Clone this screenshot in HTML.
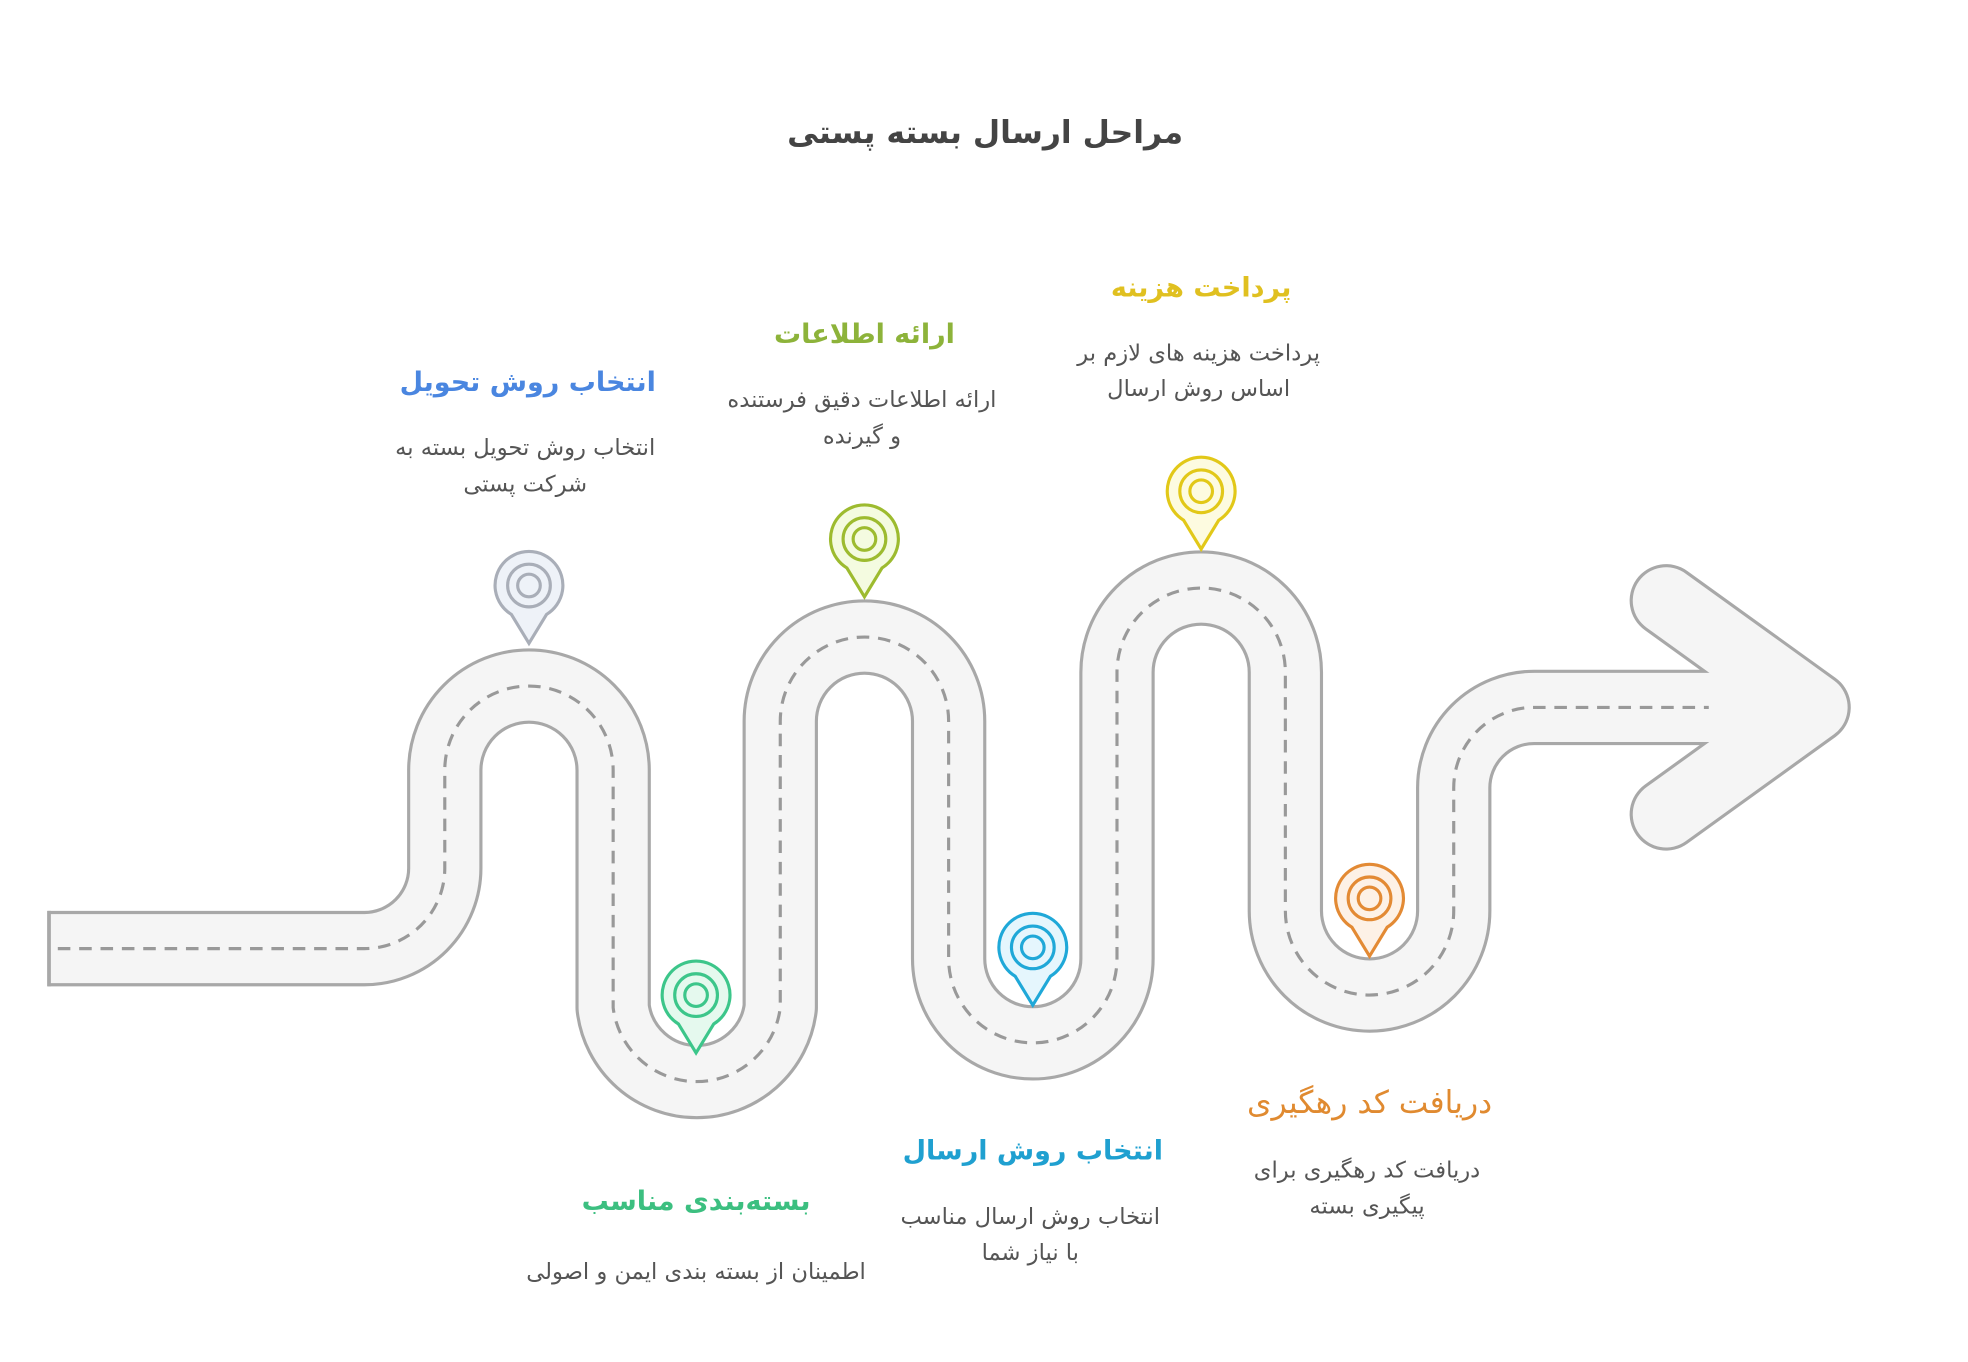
<!DOCTYPE html>
<html><head><meta charset="utf-8"><style>
html,body{margin:0;padding:0;background:#fff;}
svg{display:block;}
text{font-family:"DejaVu Sans","Liberation Sans",sans-serif;}
</style></head><body>
<svg width="1968" height="1362" viewBox="0 0 1566 1084" preserveAspectRatio="xMinYMin meet" xmlns="http://www.w3.org/2000/svg">
<rect width="1566" height="1084" fill="#fff"/>
<g fill="none" stroke-linejoin="round">
<path d="M38 755 H290 A64 64 0 0 0 354 691 V613 A67 67 0 0 1 488 613 V802 A67 67 0 0 0 621 802 V574 A67 67 0 0 1 755 574 V763 A67 67 0 0 0 889 763 V535 A67 67 0 0 1 1023 535 V725 A67 67 0 0 0 1157 725 V627 A64 64 0 0 1 1221 563 H1358" stroke="#a8a8a8" stroke-width="60"/>
<path d="M1326 478 L1444 563 L1326 648" stroke="#a8a8a8" stroke-width="58" stroke-linecap="round"/>
<path d="M38 755 H290 A64 64 0 0 0 354 691 V613 A67 67 0 0 1 488 613 V802 A67 67 0 0 0 621 802 V574 A67 67 0 0 1 755 574 V763 A67 67 0 0 0 889 763 V535 A67 67 0 0 1 1023 535 V725 A67 67 0 0 0 1157 725 V627 A64 64 0 0 1 1221 563 H1420" stroke="#f5f5f5" stroke-width="55"/>
<path d="M1326 478 L1444 563 L1326 648" stroke="#f5f5f5" stroke-width="53" stroke-linecap="round"/>
<line x1="39" y1="725" x2="39" y2="785" stroke="#a8a8a8" stroke-width="3"/>
<path d="M46 755 H290 A64 64 0 0 0 354 691 V613 A67 67 0 0 1 488 613 V802 A67 67 0 0 0 621 802 V574 A67 67 0 0 1 755 574 V763 A67 67 0 0 0 889 763 V535 A67 67 0 0 1 1023 535 V725 A67 67 0 0 0 1157 725 V627 A64 64 0 0 1 1221 563 H1360" stroke="#999" stroke-width="2.5" stroke-dasharray="10 7"/>
</g>
<g stroke-width="2.5">
<g stroke="#a9aeb8"><path d="M421 512 L407 489 A27 27 0 1 1 435 489 Z" fill="#eef2f8"/><circle cx="421" cy="466" r="17" fill="none"/><circle cx="421" cy="466" r="9" fill="none"/></g>
<g stroke="#9dbb2f"><path d="M688 475 L674 452 A27 27 0 1 1 702 452 Z" fill="#f4fbe0"/><circle cx="688" cy="429" r="17" fill="none"/><circle cx="688" cy="429" r="9" fill="none"/></g>
<g stroke="#e2c818"><path d="M956 437 L942 414 A27 27 0 1 1 970 414 Z" fill="#fdfbe0"/><circle cx="956" cy="391" r="17" fill="none"/><circle cx="956" cy="391" r="9" fill="none"/></g>
<g stroke="#3cc68a"><path d="M554 838 L540 815 A27 27 0 1 1 568 815 Z" fill="#e5f9ee"/><circle cx="554" cy="792" r="17" fill="none"/><circle cx="554" cy="792" r="9" fill="none"/></g>
<g stroke="#1fa8d8"><path d="M822 800 L808 777 A27 27 0 1 1 836 777 Z" fill="#e5f6fd"/><circle cx="822" cy="754" r="17" fill="none"/><circle cx="822" cy="754" r="9" fill="none"/></g>
<g stroke="#e38a34"><path d="M1090 761 L1076 738 A27 27 0 1 1 1104 738 Z" fill="#fdf1e6"/><circle cx="1090" cy="715" r="17" fill="none"/><circle cx="1090" cy="715" r="9" fill="none"/></g>
</g>
<g text-anchor="middle" direction="rtl">
<text x="784" y="114" font-size="25" font-weight="bold" fill="#444">مراحل ارسال بسته پستی</text>
<text x="420" y="311" font-size="21.5" font-weight="bold" fill="#4a86e0">انتخاب روش تحویل</text>
<text x="418" y="362" font-size="18" fill="#555">انتخاب روش تحویل بسته به</text>
<text x="418" y="391" font-size="18" fill="#555">شرکت پستی</text>
<text x="688" y="273" font-size="21.5" font-weight="bold" fill="#8db33a">ارائه اطلاعات</text>
<text x="686" y="324" font-size="18" fill="#555">ارائه اطلاعات دقیق فرستنده</text>
<text x="686" y="353" font-size="18" fill="#555">و گیرنده</text>
<text x="956" y="236" font-size="21.5" font-weight="bold" fill="#e0c020">پرداخت هزینه</text>
<text x="954" y="287" font-size="18" fill="#555">پرداخت هزینه های لازم بر</text>
<text x="954" y="315" font-size="18" fill="#555">اساس روش ارسال</text>
<text x="554" y="963" font-size="21.5" font-weight="bold" fill="#3cbf80">بسته‌بندی مناسب</text>
<text x="554" y="1018" font-size="18" fill="#555">اطمینان از بسته بندی ایمن و اصولی</text>
<text x="822" y="923" font-size="21.5" font-weight="bold" fill="#1fa0d0">انتخاب روش ارسال</text>
<text x="820" y="974" font-size="18" fill="#555">انتخاب روش ارسال مناسب</text>
<text x="820" y="1003" font-size="18" fill="#555">با نیاز شما</text>
<text x="1090" y="886" font-size="25" fill="#e08a30">دریافت کد رهگیری</text>
<text x="1088" y="937" font-size="18" fill="#555">دریافت کد رهگیری برای</text>
<text x="1088" y="966" font-size="18" fill="#555">پیگیری بسته</text>
</g>
</svg>
</body></html>
